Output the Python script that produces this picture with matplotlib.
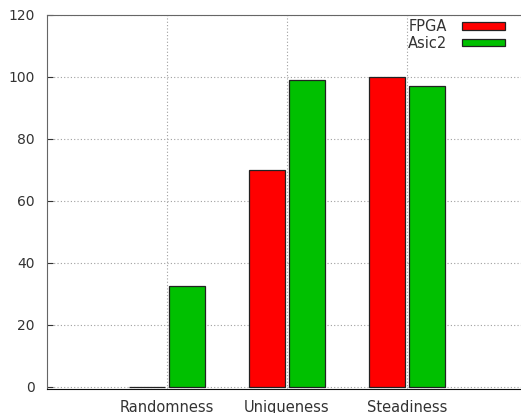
import numpy as np
import matplotlib.pyplot as plt

categories = ['Randomness', 'Uniqueness', 'Steadiness']
fpga = [0, 70, 100]
asic2 = [32.5, 99, 97]

fig = plt.figure(figsize=(5.21, 4.13), dpi=100)
ax = fig.add_axes([47 / 521, 24 / 413, 480 / 521, 374 / 413])

x = np.arange(len(categories))
w = 0.3
ax.bar(x - 0.167, fpga, w, color='#ff0000', edgecolor='#222222', linewidth=0.9, label='FPGA', zorder=3)
ax.bar(x + 0.167, asic2, w, color='#00c000', edgecolor='#222222', linewidth=0.9, label='Asic2', zorder=3)

ax.set_xlim(-1, 3)
ax.set_ylim(-0.7, 120)
ax.set_yticks(range(0, 121, 20))
ax.set_xticks(x)
ax.set_xticklabels(categories)

ax.grid(True, color='#a0a0a0', linestyle=(0, (1, 2)), linewidth=0.8, zorder=0)
ax.tick_params(axis='y', direction='in', length=4, pad=9, labelsize=10, colors='#333333')
ax.tick_params(axis='x', length=0, pad=8, labelsize=10.5, colors='#333333')

for s in ['left', 'top']:
    ax.spines[s].set_color('#666666')
ax.spines['bottom'].set_color('#111111')
ax.spines['right'].set_visible(False)

leg = ax.legend(loc='upper left', bbox_to_anchor=(349 / 480, 1.02), frameon=False, markerfirst=False,
                handlelength=3.0, handleheight=0.4, fontsize=10.5, labelspacing=0.1,
                handletextpad=1.0, borderpad=0.3)
for t in leg.get_texts():
    t.set_ha('right')
    t.set_color('#333333')

plt.savefig('out.png')
plt.close()
